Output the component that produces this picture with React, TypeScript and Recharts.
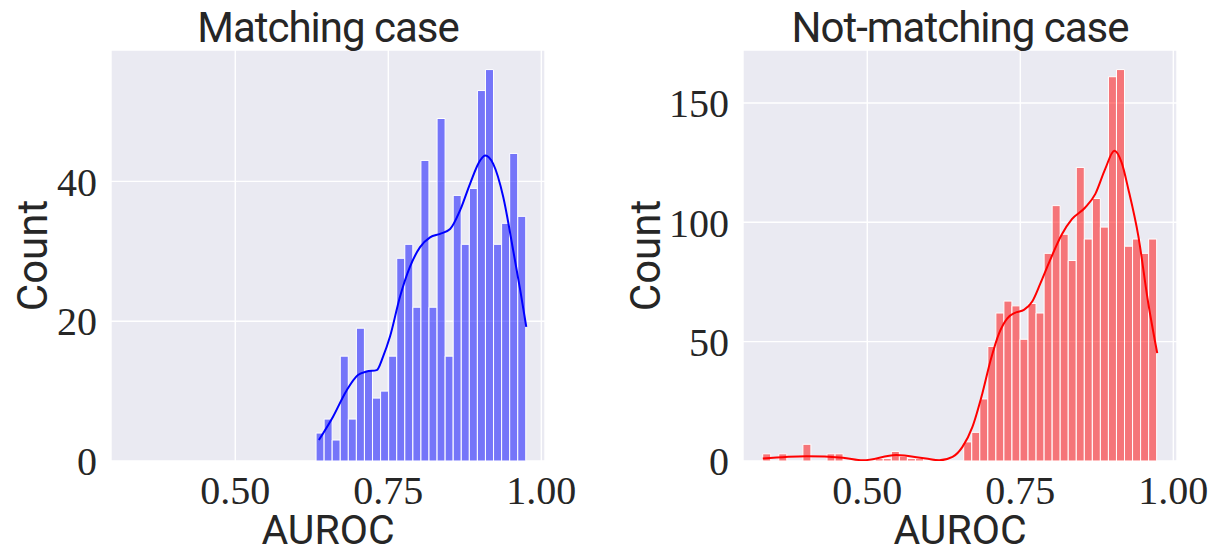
import { Bar, CartesianGrid, ComposedChart, Line, XAxis, YAxis } from 'recharts'

// shared x range of both panels (seaborn adds 5% margins round the data)
const X_DOMAIN: [number, number] = [0.297, 1.006]
const X_TICKS = [0.5, 0.75, 1.0]

// Matching case
const matchBinStart = 0.632
const matchBinWidth = 0.01318
const matchCounts = [4, 6, 3, 15, 6, 19, 13, 9, 10, 15, 29, 31, 22, 43, 22, 49, 15, 38, 31, 39, 53, 56, 31, 34, 44, 35]
const matchKdeX = [
  0.6366, 0.6595, 0.6819, 0.7004, 0.7146, 0.731, 0.7413, 0.7528, 0.7691, 0.7855, 0.8019, 0.8182,
  0.8346, 0.851, 0.8674, 0.8837, 0.9001, 0.9083, 0.9214, 0.9377, 0.9541, 0.9656, 0.9754,
]
const matchKdeY = [
  3.0, 6.3, 10.1, 12.3, 12.8, 13.0, 14.9, 17.8, 23.5, 27.8, 30.6, 32.0, 32.5, 33.2, 35.9, 39.7, 43.0,
  43.7, 42.5, 37.8, 30.1, 24.4, 19.2,
]
const matchYTicks = [0, 20, 40]
const matchYMax = 58.8

// Not-matching case
const otherBinStart = 0.3292
const otherBinWidth = 0.013135
const otherCounts = [
  3, 0, 3, 0, 0, 7, 0, 0, 3, 3, 0, 0, 0, 0, 1, 1, 4, 2, 1, 1, 0, 0, 0, 0, 0, 8, 12, 26, 48, 62, 67, 65,
  51, 66, 62, 87, 107, 95, 84, 123, 93, 110, 98, 161, 164, 90, 93, 87, 93,
]
const otherKdeX = [
  0.3293, 0.4008, 0.4603, 0.4929, 0.5472, 0.596, 0.6176, 0.6393, 0.6555, 0.6718, 0.688, 0.7016,
  0.7153, 0.7288, 0.7423, 0.7559, 0.7695, 0.783, 0.7966, 0.818, 0.8343, 0.8561, 0.8724, 0.8886,
  0.9037, 0.9156, 0.9265, 0.9428, 0.959, 0.9737,
]
const otherKdeY = [
  1.0, 2.0, 1.4, 0.3, 2.5, 1.0, 0.3, 1.7, 5.9, 14.3, 28.3, 42.3, 53.5, 59.8, 62.2, 63.3, 66.8, 74.5,
  82.9, 95, 101.3, 106.2, 111.8, 122.3, 130, 125, 113.9, 94.3, 66.2, 45.2,
]
const otherYTicks = [0, 50, 100, 150]
const otherYMax = 172.2

const INK = '#262626'
const SERIF = '"Liberation Serif", "DejaVu Serif", serif'
const SANS = 'Roboto, "DejaVu Sans", sans-serif'
const HEIGHT = 554
const PLOT_TOP = 50
const PLOT_BOTTOM = 461

function toBins(start: number, width: number, counts: number[]) {
  return counts.map((count, i) => ({ x: start + (i + 0.5) * width, count }))
}

function toKde(xs: number[], ys: number[]) {
  return xs.map((x, i) => ({ x, y: ys[i] }))
}

interface PanelProps {
  title: string
  color: string
  bins: { x: number; count: number }[]
  kde: { x: number; y: number }[]
  yMax: number
  yTicks: number[]
  width: number
  yAxisWidth: number
  marginRight: number
  countX: number
}

function HistPanel({ title, color, bins, kde, yMax, yTicks, width, yAxisWidth, marginRight, countX }: PanelProps) {
  const plotCenter = yAxisWidth + (width - yAxisWidth - marginRight) / 2
  const plotMiddle = (PLOT_TOP + PLOT_BOTTOM) / 2
  return (
    <ComposedChart
      width={width}
      height={HEIGHT}
      data={bins}
      margin={{ top: PLOT_TOP, right: marginRight, bottom: 0, left: 0 }}
      barCategoryGap={0}
      barGap={0}
    >
      <CartesianGrid fill="#eaeaf2" stroke="#ffffff" strokeWidth={1.4} />
      <XAxis
        type="number"
        dataKey="x"
        domain={X_DOMAIN}
        ticks={X_TICKS}
        interval={0}
        allowDataOverflow
        tickFormatter={(v: number) => v.toFixed(2)}
        axisLine={false}
        tickLine={false}
        tickSize={0}
        tickMargin={15}
        height={HEIGHT - PLOT_BOTTOM}
        tick={{ fill: INK, fontSize: 40, fontFamily: SERIF }}
        label={{ value: 'AUROC', position: 'insideBottom', offset: 10, fill: INK, fontSize: 41, fontFamily: SANS }}
      />
      <XAxis xAxisId="kde" type="number" dataKey="x" domain={X_DOMAIN} allowDataOverflow hide />
      <YAxis
        type="number"
        domain={[0, yMax]}
        ticks={yTicks}
        interval={0}
        allowDataOverflow
        axisLine={false}
        tickLine={false}
        tickSize={0}
        tickMargin={14}
        width={yAxisWidth}
        tick={{ fill: INK, fontSize: 40, fontFamily: SERIF }}
      />
      <Bar dataKey="count" fill={color} fillOpacity={0.5} stroke="#ffffff" strokeWidth={1} isAnimationActive={false} />
      <Line
        xAxisId="kde"
        data={kde}
        dataKey="y"
        type="monotone"
        stroke={color}
        strokeWidth={2}
        dot={false}
        activeDot={false}
        isAnimationActive={false}
      />
      <text x={plotCenter} y={42} textAnchor="middle" fill={INK} fontSize={42} fontFamily={SANS} letterSpacing={-1}>
        {title}
      </text>
      <text
        x={countX}
        y={plotMiddle}
        textAnchor="middle"
        fill={INK}
        fontSize={42}
        fontFamily={SANS}
        transform={`rotate(-90, ${countX}, ${plotMiddle})`}
      >
        Count
      </text>
    </ComposedChart>
  )
}

export default function App() {
  return (
    <div style={{ position: 'absolute', left: 0, top: 0, width: 1213, height: HEIGHT, background: '#ffffff' }}>
      <div style={{ position: 'absolute', left: 0, top: 0 }}>
        <HistPanel
          title="Matching case"
          color="#0000ff"
          bins={toBins(matchBinStart, matchBinWidth, matchCounts)}
          kde={toKde(matchKdeX, matchKdeY)}
          yMax={matchYMax}
          yTicks={matchYTicks}
          width={600}
          yAxisWidth={111}
          marginRight={55}
          countX={47}
        />
      </div>
      <div style={{ position: 'absolute', left: 600, top: 0 }}>
        <HistPanel
          title="Not-matching case"
          color="#ff0000"
          bins={toBins(otherBinStart, otherBinWidth, otherCounts)}
          kde={toKde(otherKdeX, otherKdeY)}
          yMax={otherYMax}
          yTicks={otherYTicks}
          width={613}
          yAxisWidth={143}
          marginRight={36}
          countX={60}
        />
      </div>
    </div>
  )
}
